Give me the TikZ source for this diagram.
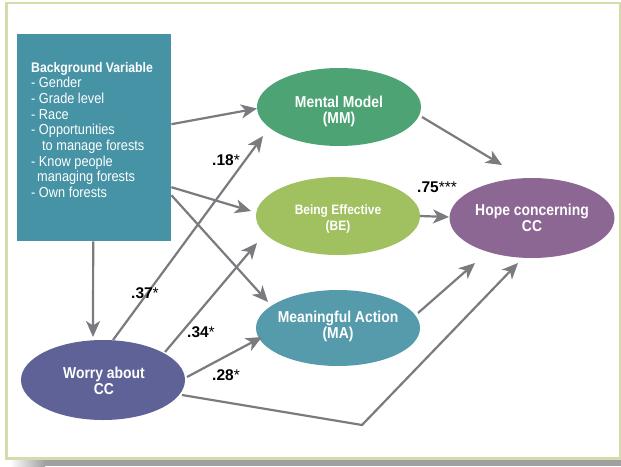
\documentclass[tikz,border=0pt]{standalone}
\usepackage{fontspec}
\setmainfont{Liberation Sans}
\newfontfamily\cond{Liberation Sans}[FakeStretch=0.88]
\usetikzlibrary{arrows.meta,calc,shapes.geometric}
\definecolor{frameC}{RGB}{212,220,172}
\definecolor{shadowC}{RGB}{160,160,160}
\definecolor{boxC}{RGB}{71,147,166}
\definecolor{mmC}{RGB}{78,163,117}
\definecolor{beC}{RGB}{161,192,95}
\definecolor{hopeC}{RGB}{140,103,147}
\definecolor{maC}{RGB}{85,155,171}
\definecolor{worryC}{RGB}{94,98,150}
\definecolor{arrowC}{RGB}{122,123,127}
\begin{document}
\begin{tikzpicture}[x=1pt,y=-1pt,
  ell/.style={ellipse, minimum width=164pt, minimum height=78pt, inner sep=0pt},
  etext/.style={text=white, align=center, inner sep=0pt, font=\cond\bfseries\fontsize{15.8}{16}\selectfont},
  conn/.style={draw=arrowC, line width=2.2pt, -{Stealth[length=16pt,width=14pt,inset=4.5pt]}},
  lab/.style={anchor=base west, inner sep=0pt, font=\bfseries\fontsize{15.5}{18}\selectfont},
  bgt/.style={anchor=base west, inner sep=0pt, text=white, font=\cond\fontsize{14.5}{16}\selectfont}]
\useasboundingbox (0,0) rectangle (621,466);
\fill[white] (0,0) rectangle (621,466);
% shadow and frame
\shade[left color=white, right color=shadowC] (10,460) rectangle (45,466);
\fill[shadowC] (45,460) rectangle (621,466);
\draw[frameC, line width=2.8pt] (6.5,3) rectangle (620,458.5);
% background box
\node[fill=boxC, minimum width=154pt, minimum height=207pt, inner sep=0pt, anchor=north west] (box) at (17,34) {};
\node[bgt, font=\cond\bfseries\fontsize{13.9}{16}\selectfont] (bg1) at (31,72) {Background Variable};
\node[bgt] (bg2) at (31,87.7) {- Gender};
\node[bgt] (bg3) at (31,103.4) {- Grade level};
\node[bgt] (bg4) at (31,119.1) {- Race};
\node[bgt] (bg5) at (31,134.8) {- Opportunities};
\node[bgt] (bg6) at (42,150.5) {to manage forests};
\node[bgt] (bg7) at (31,166.2) {- Know people};
\node[bgt] (bg8) at (37,181.9) {managing forests};
\node[bgt] (bg9) at (31,197.6) {- Own forests};
% ellipses
\node[ell, fill=mmC] (mm) at (339,107) {};
\node[etext] (mmt) at (339,111) {Mental Model\\(MM)};
\node[ell, fill=beC] (be) at (338,216) {};
\node[etext, font=\cond\bfseries\fontsize{13.6}{16}\selectfont] (bet) at (338,218.5) {Being Effective\\(BE)};
\node[ell, fill=maC, minimum height=76pt] (ma) at (338,328) {};
\node[etext] (mat) at (338,326) {Meaningful Action\\(MA)};
\node[ell, fill=hopeC, minimum width=165pt, minimum height=80pt] (hope) at (532,218) {};
\node[etext] (hopet) at (532,218) {Hope concerning\\CC};
\node[ell, fill=worryC, minimum height=80pt] (worry) at (103,380) {};
\node[etext] (worryt) at (104,380.5) {Worry about\\CC};
% arrow end points
\coordinate (tMM1) at (257,108.5);
\coordinate (tBE1) at (251,211);
\coordinate (tMA1) at (268,302);
\coordinate (tW) at (93,337);
\coordinate (tMM2) at (263,136);
\coordinate (tBE2) at (257,243);
\coordinate (tMA2) at (262,337);
\coordinate (bend) at (362,425);
\coordinate (tH1) at (518,263);
\coordinate (tH2) at (475,263);
\coordinate (tH3) at (502,165);
\coordinate (tH4) at (449,217);
% connectors
\draw[conn] ([yshift=13.5pt]box.east) -- (tMM1);
\draw[conn] ([yshift=-49.5pt]box.east) -- (tBE1);
\draw[conn] ([yshift=-57.5pt]box.east) -- (tMA1);
\draw[conn] ([xshift=-1pt]box.south) -- (tW);
\draw[conn] ($(worry.center)+(10,-40)$) -- (tMM2);
\draw[conn] ($(worry.center)+(62,-28)$) -- (tBE2);
\draw[conn] ($(worry.center)+(84,-3)$) -- (tMA2);
\draw[conn] ($(worry.center)+(79,15)$) -- (bend) -- (tH1);
\draw[conn] ($(ma.center)+(80,-15)$) -- (tH2);
\draw[conn] ($(mm.center)+(83,10)$) -- (tH3);
\draw[conn] (be.east) -- (tH4);
% labels
\node[lab] (l18) at (212,165) {.18\mdseries*};
\node[lab] (l75) at (417,192) {.75\mdseries***};
\node[lab] (l37) at (131,298) {.37\mdseries*};
\node[lab] (l34) at (187,337) {.34\mdseries*};
\node[lab] (l28) at (212,380) {.28\mdseries*};
\end{tikzpicture}
\end{document}
